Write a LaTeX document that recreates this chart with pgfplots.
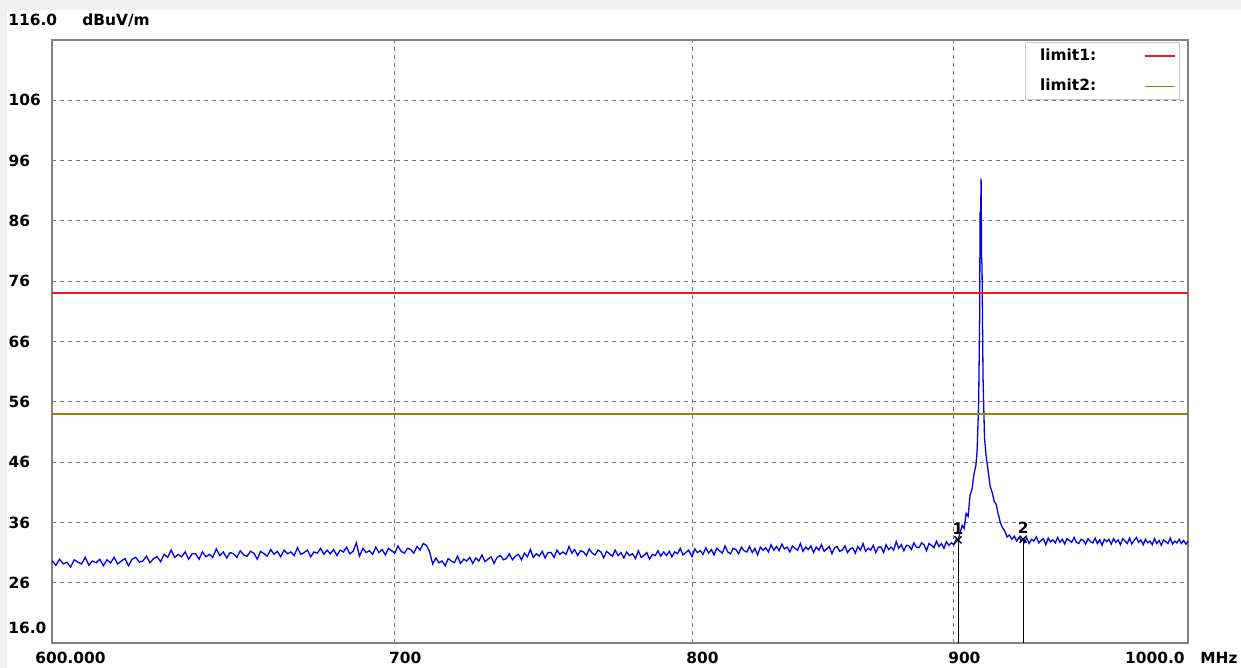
\documentclass[border=0pt]{standalone}
\usepackage{fontspec}
\setmainfont{DejaVu Sans}
\usepackage{pgfplots}
\pgfplotsset{compat=1.18}
\definecolor{framec}{RGB}{128,128,128}
\definecolor{gridc}{RGB}{120,120,120}
\definecolor{bgc}{RGB}{240,240,240}
\definecolor{redlim}{rgb}{0.93,0.1,0.12}
\definecolor{olivelim}{RGB}{140,140,0}
\definecolor{tracec}{RGB}{0,0,235}
\definecolor{legframe}{RGB}{200,200,200}
\newcommand\lbl{\fontsize{7.7}{9}\selectfont\bfseries}
\begin{document}
\begin{tikzpicture}
\path[use as bounding box] (0,0) rectangle (620.5pt,334pt);
\fill[bgc] (0,0) rectangle (620.5pt,334pt);
\fill[white] (3.5pt,0) rectangle (620.5pt,329pt);
\begin{axis}[
  at={(26pt,12.5pt)}, anchor=south west,
  scale only axis, width=568pt, height=301.5pt,
  xmode=log, log basis x=10,
  xmin=600, xmax=1000, ymin=16, ymax=116,
  xtick={700,800,900}, xticklabels={700,800,900},
  ytick={26,36,46,56,66,76,86,96,106},
  yticklabels={26,36,46,56,66,76,86,96,106},
  minor xtick={}, minor ytick={},
  major tick length=0pt, tick style={draw=none},
  grid=major,
  major grid style={gridc, line width=0.5pt, dash pattern=on 2pt off 2pt},
  axis line style={framec, line width=1pt},
  /pgf/number format/assume math mode=true,
  xticklabel style={anchor=north west, inner sep=0pt, xshift=-3pt, yshift=-4.5pt, font=\lbl},
  yticklabel style={anchor=west, inner sep=0pt, xshift=-22pt, font=\lbl},
  legend plot pos=right,
  legend image code/.code={\draw[#1] (0pt,0pt) -- (15pt,0pt);},
  legend style={at={(0.993,0.9967)}, anchor=north east, draw=legframe,
    fill=white, font=\lbl, inner xsep=2pt, inner ysep=1pt, row sep=4pt},
  clip mode=individual,
]
\addplot[color=tracec, line width=0.65pt, forget plot] coordinates {
(600,29.6) (601,28.9) (602,29.9) (603,29.1) (604,29.4) (605,28.6) (606,29.8) (607,29.4) (608,29.1) (609,30.2)
(610,28.9) (611,29.6) (612,29.3) (613,29.9) (614,28.8) (615,29.8) (616,29.3) (617,30.2) (618,29.1) (619,29.6)
(620,30.0) (621,28.8) (622,29.9) (623,30.2) (624,29.4) (625,29.6) (626,30.4) (627,29.3) (628,30.0) (629,30.3)
(630,29.5) (631,30.7) (632,30.2) (633,31.4) (634,30.2) (635,30.7) (636,30.3) (637,31.1) (638,29.9) (639,30.8)
(640,30.8) (641,29.9) (642,31.1) (643,30.3) (644,30.7) (645,30.2) (646,31.6) (647,30.5) (648,31.1) (649,30.1)
(650,31.0) (651,30.8) (652,30.2) (653,31.3) (654,30.6) (655,30.4) (656,31.2) (657,30.9) (658,29.9) (659,31.2)
(660,30.8) (661,30.4) (662,31.5) (663,30.7) (664,31.2) (665,30.3) (666,31.4) (667,30.8) (668,31.1) (669,30.5)
(670,31.8) (671,30.7) (672,31.0) (673,31.4) (674,30.3) (675,31.1) (676,30.9) (677,31.7) (678,30.7) (679,31.4)
(680,30.8) (681,31.5) (682,30.5) (683,31.4) (684,31.1) (685,31.9) (686,30.8) (687,31.2) (688,32.6) (689,30.4)
(690,31.7) (691,31.0) (692,31.3) (693,30.7) (694,31.9) (695,31.0) (696,31.5) (697,30.6) (698,31.7) (699,31.3)
(700,30.9) (701,32.1) (702,31.2) (703,30.9) (704,31.7) (705,31.5) (706,30.9) (707,32.0) (708,31.4) (709,32.5)
(710,32.2) (711,31.2) (712,29.1) (713,30.1) (714,29.3) (715,29.6) (716,28.8) (717,30.0) (718,29.6) (719,29.3)
(720,30.4) (721,29.2) (722,29.9) (723,29.6) (724,30.2) (725,29.2) (726,30.1) (727,29.6) (728,30.6) (729,29.5)
(730,29.9) (731,30.3) (732,29.2) (733,30.2) (734,30.5) (735,29.8) (736,30.0) (737,30.8) (738,29.8) (739,30.4)
(740,30.7) (741,29.8) (742,30.9) (743,30.3) (744,31.5) (745,30.2) (746,30.8) (747,30.4) (748,31.2) (749,30.1)
(750,31.0) (751,31.0) (752,30.2) (753,31.4) (754,30.7) (755,31.1) (756,30.7) (757,32.0) (758,30.9) (759,31.5)
(760,30.5) (761,31.3) (762,31.1) (763,30.5) (764,31.6) (765,30.9) (766,30.6) (767,31.4) (768,31.1) (769,30.1)
(770,31.2) (771,30.8) (772,30.4) (773,31.4) (774,30.5) (775,31.0) (776,30.1) (777,31.1) (778,30.5) (779,30.8)
(780,30.0) (781,31.3) (782,30.2) (783,30.5) (784,31.0) (785,29.9) (786,30.7) (787,30.5) (788,31.3) (789,30.4)
(790,31.1) (791,30.5) (792,31.2) (793,30.3) (794,31.1) (795,30.8) (796,31.7) (797,30.6) (798,31.0) (799,31.4)
(800,30.3) (801,31.6) (802,31.0) (803,31.3) (804,30.7) (805,31.8) (806,30.9) (807,31.5) (808,30.6) (809,31.7)
(810,31.3) (811,30.9) (812,32.1) (813,31.1) (814,30.8) (815,31.7) (816,31.5) (817,30.8) (818,31.9) (819,31.3)
(820,31.1) (821,32.0) (822,31.0) (823,31.7) (824,30.6) (825,31.9) (826,31.4) (827,31.8) (828,31.1) (829,32.3)
(830,31.4) (831,32.0) (832,31.3) (833,32.4) (834,31.6) (835,31.9) (836,31.1) (837,32.1) (838,31.7) (839,31.4)
(840,32.5) (841,31.2) (842,31.9) (843,31.5) (844,32.1) (845,31.0) (846,31.9) (847,31.4) (848,32.3) (849,31.2)
(850,31.6) (851,32.0) (852,30.8) (853,31.8) (854,32.0) (855,31.2) (856,31.4) (857,32.1) (858,31.0) (859,31.6)
(860,31.8) (861,30.9) (862,32.0) (863,31.4) (864,32.5) (865,31.2) (866,31.7) (867,31.4) (868,32.2) (869,31.0)
(870,31.9) (871,31.9) (872,31.0) (873,32.3) (874,31.5) (875,31.9) (876,31.4) (877,32.8) (878,31.7) (879,32.3)
(880,31.3) (881,32.2) (882,32.1) (883,31.5) (884,32.6) (885,31.9) (886,31.8) (887,32.6) (888,32.3) (889,31.3)
(890,32.5) (891,32.2) (892,31.8) (893,32.9) (894,32.0) (895,32.5) (896,31.7) (897,32.8) (898,32.2) (899,32.6)
(900,32.3) (901,33.2) (901.7,33.1) (902.5,34.2) (903.4,35.5) (904.2,35.0) (905.0,37.5) (905.8,37.0) (906.6,40.5)
(907.4,41.5) (908.2,44.0) (909.0,45.5) (909.5,48.0) (910.1,56.0) (910.5,70.0) (910.7,87.5) (910.9,86.0)
(911.1,93.0) (911.3,80.0) (911.5,78.5) (911.9,60.0) (912.5,50.0) (913.2,47.0) (914.0,44.5) (914.8,42.0)
(915.6,41.0) (916.5,39.5) (917.3,39.0) (918.1,37.5) (919.0,36.0) (919.8,35.2) (920.8,34.6) (921.8,33.6)
(922.8,33.9) (923.8,33.2) (924.8,33.7) (925.8,32.9) (926.8,33.5) (927.7,33.0) (928.5,33.2)
(929,32.7) (930,33.4) (931,32.5) (932,33.2) (933,32.9) (934,33.6) (935,32.6) (936,33.0) (937,33.3) (938,32.3)
(939,33.4) (940,32.8) (941,33.1) (942,32.6) (943,33.5) (944,32.7) (945,33.2) (946,32.4) (947,33.3) (948,33.0)
(949,32.7) (950,33.5) (951,32.7) (952,32.5) (953,33.2) (954,33.0) (955,32.4) (956,33.3) (957,32.8) (958,32.6)
(959,33.4) (960,32.5) (961,33.1) (962,32.2) (963,33.2) (964,32.8) (965,33.2) (966,32.4) (967,33.3) (968,32.7)
(969,33.1) (970,32.3) (971,33.3) (972,32.9) (973,32.5) (974,33.4) (975,32.4) (976,33.0) (977,33.5) (978,32.7)
(979,33.1) (980,32.3) (981,33.2) (982,32.6) (983,32.9) (984,32.3) (985,33.3) (986,32.5) (987,33.0) (988,32.2)
(989,33.1) (990,32.8) (991,32.5) (992,33.4) (993,32.4) (994,32.9) (995,32.6) (996,33.2) (997,32.5) (998,33.0)
(999,32.4) (1000,32.9)
};
\addplot[draw=redlim, line width=0.9pt] coordinates {(600,74) (1000,74)};
\addlegendentry{\hspace{3.5pt}\makebox[50pt][l]{limit1:}}
\addplot[draw=olivelim, line width=0.8pt] coordinates {(600,54) (1000,54)};
\addlegendentry{\hspace{3.5pt}\makebox[50pt][l]{limit2:}}
\addplot[black, line width=0.5pt, forget plot] coordinates {(901.7,16) (901.7,33.1)};
\addplot[black, line width=0.5pt, forget plot] coordinates {(928.5,16) (928.5,33.2)};
\addplot[black, only marks, mark=x, mark size=2.5pt, line width=0.7pt, forget plot,
  point meta=explicit symbolic, nodes near coords,
  nodes near coords style={font=\lbl, inner sep=0pt, anchor=south, yshift=2.5pt}]
  coordinates {(901.7,33.1) [1] (928.5,33.2) [2]};
\end{axis}
\node[anchor=west, inner sep=0pt, font=\lbl] at (4pt,324pt) {116.0};
\node[anchor=west, inner sep=0pt, font=\lbl] at (41pt,324pt) {dBuV/m};
\node[anchor=west, inner sep=0pt, font=\lbl] at (4pt,20pt) {16.0};
\node[anchor=north west, inner sep=0pt, font=\lbl] at (17.5pt,8pt) {600.000};
\node[anchor=north east, inner sep=0pt, font=\lbl] at (592.5pt,8pt) {1000.0};
\node[anchor=north west, inner sep=0pt, font=\lbl] at (600pt,8pt) {MHz};
\end{tikzpicture}
\end{document}
